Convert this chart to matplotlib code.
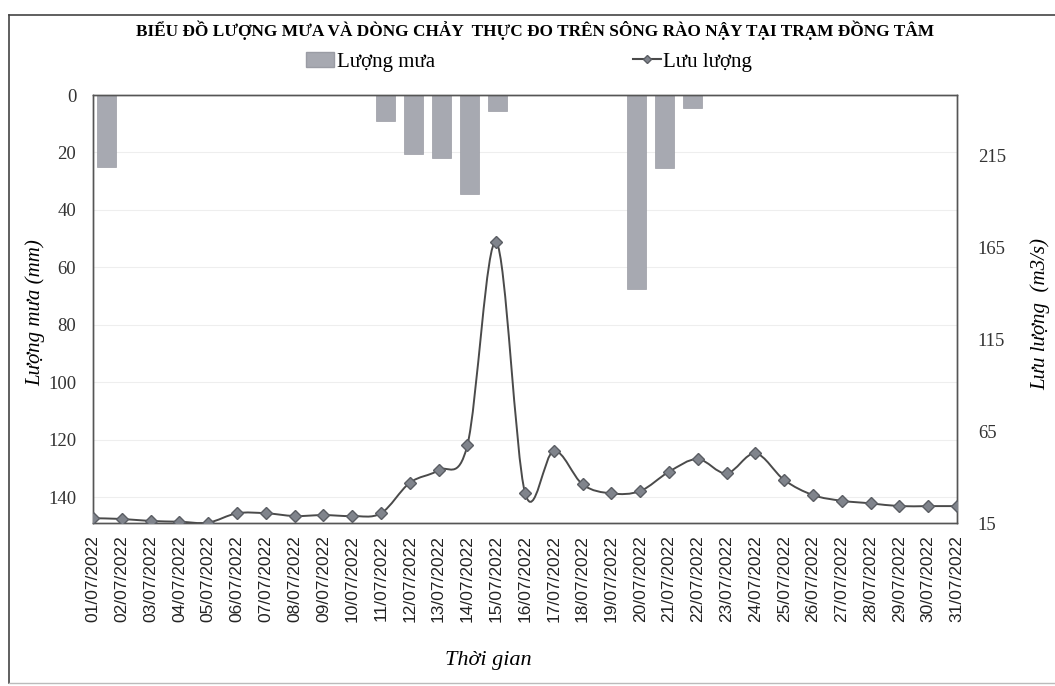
import numpy as np
import matplotlib
matplotlib.use('Agg')
import matplotlib.pyplot as plt
from matplotlib.path import Path
from matplotlib.patches import PathPatch, Patch
from matplotlib.lines import Line2D

# DỮ LIỆU
ngay = [f'{d:02d}/07/2022' for d in range(1, 32)]
luong_mua = [25, 0, 0, 0, 0, 0, 0, 0, 0, 0, 9, 20.5, 22, 34.5, 5.5,
             0, 0, 0, 0, 67.5, 25.5, 4.5, 0, 0, 0, 0, 0, 0, 0, 0, 0]
luu_luong = [17.6, 17.2, 16.1, 15.7, 15.2, 20.3, 20.3, 18.8, 19.3, 18.8,
             20.3, 36.9, 43.8, 57.4, 167.9, 31.5, 54.3, 36.0, 31.1, 32.4,
             42.9, 49.8, 42.0, 52.9, 38.4, 30.2, 27.1, 25.7, 24.2, 24.2, 24.2]
mua_ticks = [0, 20, 40, 60, 80, 100, 120, 140]
ll_ticks = [15, 65, 115, 165, 215]

SERIF = 'Liberation Serif'
SANS = 'Liberation Sans'

fig = plt.figure(figsize=(10.55, 6.86), dpi=100)
ax = fig.add_axes([93 / 1055, 1 - 523 / 686, (957 - 93) / 1055, (523 - 95) / 686])
ax2 = ax.twinx()

n = len(ngay)
x_line = np.arange(n)
# cột mưa nằm giữa các vạch (31 ô trên 30 khoảng)
x_bar = (np.arange(n) + 0.5) * (n - 1) / n

ax.bar(x_bar, luong_mua, width=0.66, color='#a7a9b1', edgecolor='#9a9ca4',
       linewidth=0.5, zorder=2)
ax.set_ylim(149, 0)
ax.set_xlim(0, n - 1)
ax.set_yticks(mua_ticks)
ax.set_yticklabels([str(v) for v in mua_ticks], fontfamily=SERIF, fontsize=13.5,
                   color='#333333')
ax.yaxis.grid(True, color='#eeeeee', linewidth=0.8, zorder=0)
ax.set_axisbelow(True)
ax.set_xticks(x_line)
ax.set_xticklabels(ngay, rotation=90, fontfamily=SANS, fontsize=12.5, color='#222222')
ax.tick_params(length=0, pad=12)
ax.tick_params(axis='x', pad=9)

# đường lưu lượng làm trơn kiểu Excel (Bezier)
pts = np.column_stack([x_line, luu_luong])
verts = [pts[0]]
codes = [Path.MOVETO]
for i in range(n - 1):
    p0 = pts[i - 1] if i > 0 else pts[i]
    p1 = pts[i]
    p2 = pts[i + 1]
    p3 = pts[i + 2] if i + 2 < n else pts[i + 1]
    verts += [p1 + (p2 - p0) / 6, p2 - (p3 - p1) / 6, p2]
    codes += [Path.CURVE4] * 3
ax2.add_patch(PathPatch(Path(verts, codes), facecolor='none', edgecolor='#4a4a4a',
                        linewidth=1.4, zorder=3))
ax2.plot(x_line, luu_luong, linestyle='none', marker='D', markersize=6,
         markerfacecolor='#80848c', markeredgecolor='#5a5d63', zorder=4)
ax2.set_ylim(15, 248)
ax2.set_yticks(ll_ticks)
ax2.set_yticklabels([str(v) for v in ll_ticks], fontfamily=SERIF, fontsize=13.5,
                    color='#333333')
ax2.tick_params(length=0, pad=15)

for a in (ax, ax2):
    for s in a.spines.values():
        s.set_color('#555555')
        s.set_linewidth(1.0)

# tên trục
fig.text(35 / 1055, 1 - 313 / 686, 'Lượng mưa (mm)', fontfamily=SERIF, fontstyle='italic',
         fontsize=15, rotation=90, ha='center', va='center')
fig.text(1040 / 1055, 1 - 314 / 686, 'Lưu lượng  (m3/s)', fontfamily=SERIF,
         fontstyle='italic', fontsize=15, rotation=90, ha='center', va='center')
fig.text(488 / 1055, 1 - 660 / 686, 'Thời gian', fontfamily=SERIF, fontstyle='italic',
         fontsize=16, ha='center', va='center')

fig.text(535 / 1055, 1 - 30 / 686,
         'BIỂU ĐỒ LƯỢNG MƯA VÀ DÒNG CHẢY  THỰC ĐO TRÊN SÔNG RÀO NẬY TẠI TRẠM ĐỒNG TÂM',
         fontfamily=SERIF, fontweight='bold', fontsize=12.4, ha='center', va='center')

handles = [Patch(facecolor='#a7a9b1', edgecolor='#9a9ca4'),
           Line2D([0], [0], color='#4a4a4a', marker='D', markersize=4,
                  markerfacecolor='#80848c', markeredgecolor='#5a5d63')]
fig.legend(handles, ['Lượng mưa', 'Lưu lượng'], loc='center',
           bbox_to_anchor=(529 / 1055, 1 - 62 / 686), ncol=2, frameon=False,
           prop={'family': SERIF, 'size': 15}, columnspacing=9.5,
           handlelength=1.35, handletextpad=0.1)

# khung biểu đồ
fig.add_artist(Line2D([9 / 1055, 9 / 1055], [1 - 683 / 686, 1 - 15 / 686],
                      color='#444444', linewidth=1.2))
fig.add_artist(Line2D([9 / 1055, 1.0], [1 - 15 / 686, 1 - 15 / 686],
                      color='#444444', linewidth=1.2))
fig.add_artist(Line2D([9 / 1055, 1.0], [1 - 683 / 686, 1 - 683 / 686],
                      color='#bbbbbb', linewidth=1.0))

fig.savefig('out.png', dpi=100)
